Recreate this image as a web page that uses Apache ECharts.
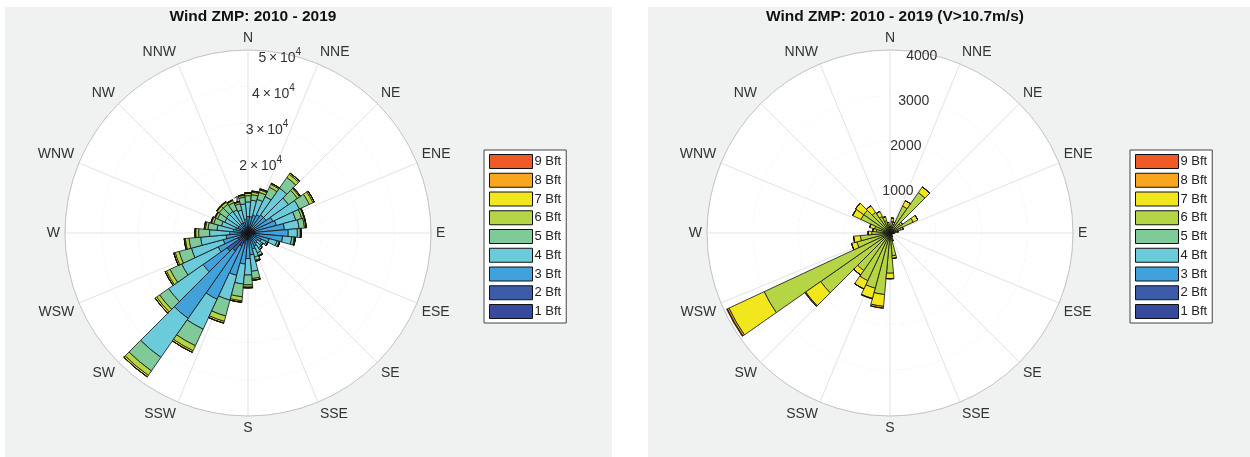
<!DOCTYPE html>
<html>
<head>
<meta charset="utf-8">
<script src="https://cdn.jsdelivr.net/npm/echarts@6/dist/echarts.min.js"></script>
<style>
html, body { margin: 0; padding: 0; background: #fff; }
#main { width: 1250px; height: 457px; }
</style>
</head>
<body>
<div id="main"></div>
<script>
// 36 direction bins, 10 degrees each, clockwise from N
var dirs = ['0','10','20','30','40','50','60','70','80','90','100','110','120','130','140','150','160','170',
            '180','190','200','210','220','230','240','250','260','270','280','290','300','310','320','330','340','350'];
var compass = ['N','NNE','NE','ENE','E','ESE','SE','SSE','S','SSW','SW','WSW','W','WNW','NW','NNW'];
var classes = ['1 Bft','2 Bft','3 Bft','4 Bft','5 Bft','6 Bft','7 Bft','8 Bft','9 Bft'];
var classColors = ['#384a9d','#3c5ba8','#41a1da','#6ccbdb','#80c999','#b5d545','#f2e71c','#f8a61d','#ef5a27'];

// left rose: all winds (counts per direction)
var all1 = [500,500,500,500,500,500,500,500,500,500,500,500,400,400,400,400,400,500,500,500,600,800,1500,1000,600,500,500,500,500,400,400,400,400,400,400,400];
var all2 = [1000,1000,1000,1000,1000,1000,1300,1300,1500,1500,1500,1000,800,600,600,600,800,1000,1500,1500,2400,3200,4500,6000,2400,1500,1300,1000,700,800,600,600,600,600,600,800];
var all3 = [3000,3000,3500,4000,4500,4500,5700,6200,8000,9000,7500,4500,2800,2200,2500,3000,3300,4500,5000,6500,9000,16000,22500,8000,6000,5000,4200,3500,2800,2300,2000,2000,2000,2000,2000,2600];
var all4 = [4000,4500,4500,5500,9000,7500,8000,5500,4000,2500,2500,2200,1500,1300,1500,2000,2300,4500,4500,5500,7000,9000,13000,11500,11000,9000,7000,5500,4500,4000,4000,4200,4200,4000,3500,4200];
var all5 = [1700,1500,2000,2800,3500,3000,3000,1700,1500,800,700,600,500,500,500,800,900,2000,2700,3500,4500,5000,4500,3000,3500,3500,3200,3000,2500,2200,2200,2400,2400,2200,1800,1800];
var all6 = [600,700,700,900,1100,700,1100,600,400,200,300,200,0,0,0,200,300,500,600,1100,1500,1500,1500,1000,1100,1100,1000,800,700,600,600,700,700,600,500,500];
var all7 = [200,300,300,300,400,300,400,200,100,0,0,0,0,0,0,0,0,0,200,400,500,500,500,500,400,400,300,200,300,200,200,200,200,200,200,200];
var all8 = [0,0,0,0,0,0,0,0,0,0,0,0,0,0,0,0,0,0,0,0,0,0,0,0,0,0,0,0,0,0,0,0,0,0,0,0];
var all9 = [0,0,0,0,0,0,0,0,0,0,0,0,0,0,0,0,0,0,0,0,0,0,0,0,0,0,0,0,0,0,0,0,0,0,0,0];

// right rose: V > 10.7 m/s
var strong6 = [100,250,200,650,1080,280,560,250,150,80,60,40,40,40,60,80,150,500,880,1350,1250,1150,1000,1850,3035,750,650,400,300,350,700,700,550,400,280,180];
var strong7 = [30,80,50,130,150,50,110,50,30,20,10,10,10,10,10,20,30,60,120,260,230,200,120,400,850,120,150,80,80,110,200,220,180,120,90,50];
var strong8 = [0,0,0,0,0,0,0,0,0,0,0,0,0,0,0,0,0,0,0,40,10,0,0,20,40,0,0,0,0,0,0,0,0,0,0,0];
var strong9 = [0,0,0,0,0,0,0,0,0,0,0,0,0,0,0,0,0,0,0,0,0,0,0,0,15,0,0,0,0,0,0,0,0,0,0,0];

var leftMax = 50000, leftStep = 10000;
var rightMax = 4000, rightStep = 1000;

var FONT = 'Liberation Sans, Arial, sans-serif';
var chart = echarts.init(document.getElementById('main'));

// one wind rose = 3 polars: grid, bars, radius labels (labels sit a bit lower)
function rose(cx, cy, r) {
    return [
        { center: [cx, cy], radius: r },
        { center: [cx, cy], radius: r },
        { center: [cx, cy + 3], radius: r }
    ];
}
var polars = rose(248, 233, 183).concat(rose(890, 233, 183));

function gridAngle(pi) {
    return {
        polarIndex: pi, type: 'value', min: 0, max: 360, interval: 22.5,
        startAngle: 90, clockwise: true,
        axisLine: { show: true, lineStyle: { color: '#c4c4c4', width: 1 } },
        axisTick: { show: false },
        splitLine: { show: true, lineStyle: { color: '#e3e3e3', width: 1 } },
        axisLabel: {
            margin: 5, color: '#333', fontSize: 14, fontFamily: FONT,
            formatter: function (v) { return v >= 360 ? '' : compass[Math.round(v / 22.5) % 16]; }
        }
    };
}
function gridRadius(pi, max, step) {
    return {
        polarIndex: pi, type: 'value', min: 0, max: max, interval: step,
        axisLine: { show: false }, axisTick: { show: false }, axisLabel: { show: false },
        splitLine: { show: true, lineStyle: { color: '#e3e3e3', width: 1 } },
        splitArea: { show: true, areaStyle: { color: ['#ffffff', '#ffffff'] } }
    };
}
function barAngle(pi) {
    return {
        polarIndex: pi, type: 'category', data: dirs, startAngle: 95, clockwise: true,
        axisLine: { show: false }, axisTick: { show: false }, axisLabel: { show: false },
        splitLine: { show: false }
    };
}
function barRadius(pi, max) {
    return {
        polarIndex: pi, type: 'value', min: 0, max: max,
        axisLine: { show: false }, axisTick: { show: false }, axisLabel: { show: false },
        splitLine: { show: false }
    };
}
function labelAngle(pi) {
    return {
        polarIndex: pi, type: 'value', min: 0, max: 360, startAngle: 80, clockwise: true,
        axisLine: { show: false }, axisTick: { show: false }, axisLabel: { show: false },
        splitLine: { show: false }
    };
}
function labelRadius(pi, max, step, fmt, rich) {
    return {
        polarIndex: pi, type: 'value', min: 0, max: max, interval: step,
        axisLine: { show: false }, axisTick: { show: false }, splitLine: { show: false },
        axisLabel: {
            margin: 0, align: 'center', verticalAlign: 'middle',
            color: '#333', fontSize: 14, fontFamily: FONT, formatter: fmt, rich: rich
        }
    };
}

var expRich = {
    m: { fontSize: 14, color: '#333', fontFamily: FONT, verticalAlign: 'bottom' },
    e: { fontSize: 10, color: '#333', fontFamily: FONT, verticalAlign: 'bottom', padding: [0, 0, 8, 0] }
};

var leftData = [all1, all2, all3, all4, all5, all6, all7, all8, all9];
var rightData = [null, null, null, null, null, strong6, strong7, strong8, strong9];
var zeros = dirs.map(function () { return 0; });

var series = [];
classes.forEach(function (name, i) {
    series.push({
        name: name, type: 'bar', coordinateSystem: 'polar', polarIndex: 1, stack: 'left',
        data: leftData[i], barCategoryGap: '0%',
        itemStyle: { color: classColors[i], borderColor: '#111', borderWidth: 0.8 },
        emphasis: { disabled: true }
    });
});
classes.forEach(function (name, i) {
    series.push({
        name: name, type: 'bar', coordinateSystem: 'polar', polarIndex: 4, stack: 'right',
        data: rightData[i] || zeros, barCategoryGap: '0%',
        itemStyle: { color: classColors[i], borderColor: '#111', borderWidth: 0.8 },
        emphasis: { disabled: true }
    });
});

function legendAt(x) {
    return {
        orient: 'vertical', left: x, top: 150,
        data: classes.slice().reverse(),
        itemWidth: 43, itemHeight: 14, itemGap: 3.75,
        padding: [4, 5, 4, 5],
        backgroundColor: '#fff', borderColor: '#444', borderWidth: 1,
        selectedMode: false,
        icon: 'rect',
        itemStyle: { borderColor: '#111', borderWidth: 1 },
        textStyle: { fontSize: 13, color: '#222', fontFamily: FONT, padding: [0, 0, 0, -3] }
    };
}

chart.setOption({
    animation: false,
    color: classColors,
    graphic: [
        { type: 'rect', z: -10, silent: true, shape: { x: 5, y: 7, width: 607, height: 450 }, style: { fill: '#f0f1f1' } },
        { type: 'rect', z: -10, silent: true, shape: { x: 648, y: 7, width: 602, height: 450 }, style: { fill: '#f0f1f1' } }
    ],
    title: [
        { text: 'Wind ZMP: 2010 - 2019', left: 248, top: 4, textAlign: 'center',
          textStyle: { fontSize: 15.5, fontWeight: 'bold', color: '#111', fontFamily: FONT } },
        { text: 'Wind ZMP: 2010 - 2019 (V>10.7m/s)', left: 890, top: 4, textAlign: 'center',
          textStyle: { fontSize: 15.5, fontWeight: 'bold', color: '#111', fontFamily: FONT } }
    ],
    legend: [legendAt(484), legendAt(1130)],
    polar: polars,
    angleAxis: [gridAngle(0), barAngle(1), labelAngle(2), gridAngle(3), barAngle(4), labelAngle(5)],
    radiusAxis: [
        gridRadius(0, leftMax, leftStep),
        barRadius(1, leftMax),
        labelRadius(2, leftMax, leftStep, function (v) {
            return v === 0 ? '' : '{m|' + (v / 10000) + '\u2009\u00d7\u200910}{e|4}';
        }, expRich),
        gridRadius(3, rightMax, rightStep),
        barRadius(4, rightMax),
        labelRadius(5, rightMax, rightStep, function (v) { return v === 0 ? '' : String(v); })
    ],
    series: series
});
</script>
</body>
</html>
